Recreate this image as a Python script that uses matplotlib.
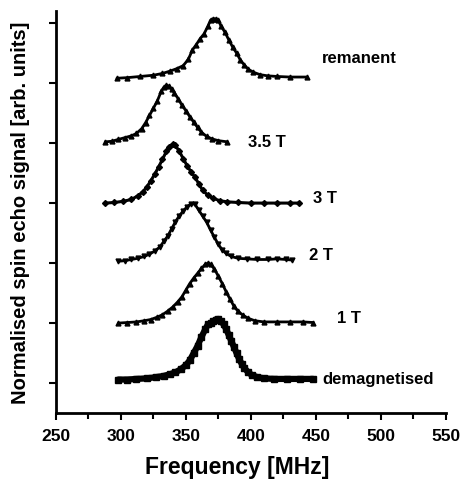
import matplotlib
matplotlib.use("Agg")
import matplotlib.pyplot as plt
from matplotlib.ticker import MultipleLocator

plt.rcParams['font.family'] = ['Liberation Sans', 'DejaVu Sans']

# ---- data (stacked spectra, plotted values include the vertical offset) ----
rem_f = [297, 305, 315, 325, 332, 338, 343, 348, 352, 355, 358, 361, 364, 367, 369, 371,
         373, 375, 377, 380, 383, 386, 389, 392, 395, 398, 402, 407, 413, 420, 430, 443]
rem_s = [5.58, 5.59, 5.61, 5.63, 5.66, 5.70, 5.74, 5.79, 5.90, 6.05, 6.14, 6.24, 6.32, 6.45, 6.55, 6.57,
         6.57, 6.55, 6.45, 6.35, 6.22, 6.10, 6.00, 5.88, 5.80, 5.73, 5.68, 5.64, 5.62, 5.61, 5.60, 5.60]

t35_f = [288, 293, 298, 303, 308, 312, 316, 319, 322, 325, 328, 331, 333, 335, 337, 339,
         341, 344, 347, 350, 353, 356, 359, 362, 366, 370, 375, 382]
t35_s = [4.52, 4.53, 4.56, 4.59, 4.62, 4.66, 4.74, 4.84, 4.96, 5.08, 5.20, 5.36, 5.43, 5.46, 5.45, 5.40,
         5.34, 5.24, 5.13, 5.04, 4.94, 4.85, 4.76, 4.68, 4.61, 4.57, 4.54, 4.52]

t3_f = [288, 295, 302, 308, 313, 317, 320, 323, 326, 329, 332, 335, 337, 340, 342, 345,
        348, 351, 354, 357, 360, 363, 367, 371, 376, 382, 390, 400, 410, 420, 430, 437]
t3_s = [3.50, 3.51, 3.53, 3.56, 3.62, 3.69, 3.77, 3.87, 3.98, 4.10, 4.23, 4.36, 4.44, 4.48, 4.46, 4.36,
        4.24, 4.12, 4.02, 3.93, 3.82, 3.71, 3.63, 3.58, 3.54, 3.52, 3.51, 3.50, 3.50, 3.50, 3.50, 3.50]

t2_f = [298, 303, 308, 313, 318, 322, 326, 330, 333, 336, 339, 342, 345, 348, 351, 354,
        357, 360, 363, 366, 369, 372, 375, 378, 381, 385, 390, 397, 405, 413, 420, 427, 432]
t2_s = [2.53, 2.54, 2.56, 2.58, 2.61, 2.65, 2.70, 2.77, 2.86, 2.95, 3.07, 3.19, 3.29, 3.37, 3.44, 3.49,
        3.48, 3.38, 3.28, 3.18, 3.05, 2.93, 2.81, 2.72, 2.66, 2.61, 2.58, 2.57, 2.56, 2.56, 2.57, 2.56, 2.55]

t1_f = [298, 305, 312, 318, 323, 328, 332, 336, 340, 344, 347, 350, 353, 356, 359, 362, 365,
        367, 369, 372, 375, 378, 381, 384, 387, 390, 394, 398, 403, 410, 420, 430, 440, 448]
t1_s = [1.50, 1.51, 1.52, 1.54, 1.56, 1.60, 1.64, 1.70, 1.77, 1.86, 1.94, 2.05, 2.16, 2.25, 2.33, 2.41, 2.48,
        2.50, 2.48, 2.40, 2.28, 2.16, 2.02, 1.90, 1.78, 1.70, 1.63, 1.58, 1.54, 1.52, 1.52, 1.52, 1.52, 1.51]

dem_f = [298, 305, 312, 320, 327, 333, 338, 342, 346, 350, 353, 356, 359, 362, 365, 367, 369, 371, 373,
         375, 377, 379, 381, 383, 385, 387, 389, 391, 393, 395, 398, 401, 405, 410, 418, 428, 438, 448]
dem_s = [0.56, 0.56, 0.57, 0.58, 0.60, 0.62, 0.65, 0.68, 0.73, 0.80, 0.88, 1.00, 1.12, 1.27, 1.40, 1.48, 1.50, 1.53, 1.56,
         1.57, 1.53, 1.48, 1.40, 1.30, 1.20, 1.10, 1.00, 0.90, 0.82, 0.75, 0.68, 0.63, 0.60, 0.58, 0.57, 0.57, 0.57, 0.57]

labels = ["remanent", "3.5 T", "3 T", "2 T", "1 T", "demagnetised"]
label_x = [455, 398, 448, 445, 466, 455]
label_y = [5.93, 4.52, 3.60, 2.65, 1.60, 0.58]

x_ticks = [250, 300, 350, 400, 450, 500, 550]
y_ticks = [0.5, 1.5, 2.5, 3.5, 4.5, 5.5, 6.5]

# ---- figure ----
fig = plt.figure(figsize=(4.62, 4.81), dpi=100)
ax = fig.add_axes([0.121, 0.139, 0.844, 0.836])

series = [
    (rem_f, rem_s, '^', 2.0, 3.5),
    (t35_f, t35_s, '^', 2.0, 3.5),
    (t3_f, t3_s, 'D', 2.2, 3.0),
    (t2_f, t2_s, 'v', 2.0, 3.5),
    (t1_f, t1_s, '^', 2.0, 3.5),
    (dem_f, dem_s, 's', 4.5, 5.0),
]
for f, s, m, lw, ms in series:
    ax.plot(f, s, color='black', lw=lw, marker=m, ms=ms, solid_capstyle='round')

for t, x, y in zip(labels, label_x, label_y):
    ax.text(x, y, t, fontsize=12, fontweight='bold', va='center', ha='left', color='black')

ax.set_xlim(250, 550)
ax.set_ylim(0, 6.7)
ax.set_xticks(x_ticks)
ax.xaxis.set_minor_locator(MultipleLocator(25))
ax.set_yticks(y_ticks)
ax.set_yticklabels([])
for lab in ax.get_xticklabels():
    lab.set_fontweight('bold')
ax.tick_params(axis='x', labelsize=12.5, width=1.5, length=5, direction='out', pad=6)
ax.tick_params(axis='x', which='minor', width=1.5, length=4, direction='out')
ax.tick_params(axis='y', width=1.5, length=5, direction='out')

for side in ['top', 'right']:
    ax.spines[side].set_visible(False)
for side in ['left', 'bottom']:
    ax.spines[side].set_linewidth(2)

ax.set_xlabel("Frequency [MHz]", fontsize=16.5, fontweight='bold')
ax.xaxis.set_label_coords(0.465, -0.105)
ax.set_ylabel("Normalised spin echo signal [arb. units]", fontsize=14.5, fontweight='bold', labelpad=10)

fig.savefig("out.png", dpi=100)
